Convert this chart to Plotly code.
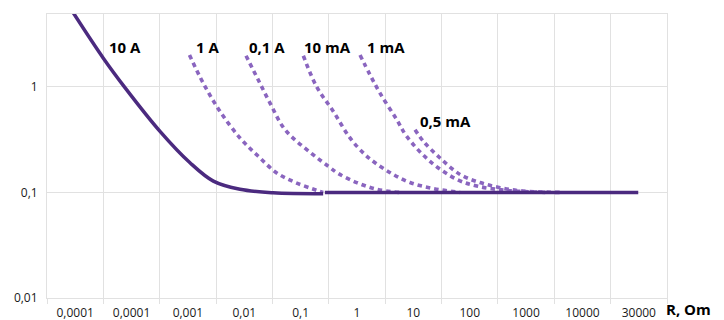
import plotly.graph_objects as go

# ---- data (x in category-axis units, y = value) ----
tick_labels = ["0,0001", "0,0001", "0,001", "0,01", "0,1", "1", "10", "100", "1000", "10000", "30000"]
y_tick_vals = [0.01, 0.1, 1]
y_tick_text = ["0,01", "0,1", "1"]

a10_x = [0.467, 0.999, 1.38, 2.005, 2.537, 2.951, 3.424, 4.01, 4.90]
a10_y = [5.02, 1.87, 0.99, 0.379, 0.191, 0.128, 0.107, 0.0993, 0.0973]
flat_x = [4.93, 10.49]
flat_y = [0.1, 0.1]

a1_x = [2.528, 2.773, 3.070, 3.424, 3.749, 4.076, 4.410, 4.78, 4.90]
a1_y = [2.0, 1.08, 0.585, 0.328, 0.22, 0.153, 0.124, 0.105, 0.1]

a01_x = [3.531, 3.749, 3.957, 4.223, 4.697, 4.991, 5.169, 5.495, 5.850, 6.26]
a01_y = [1.97, 1.16, 0.702, 0.393, 0.233, 0.177, 0.151, 0.124, 0.107, 0.1]

ma10_x = [4.548, 4.785, 5.080, 5.376, 5.642, 5.820, 6.116, 6.441, 6.849, 7.33]
ma10_y = [1.97, 1.0, 0.585, 0.328, 0.228, 0.191, 0.151, 0.124, 0.109, 0.1]

ma1_x = [5.554, 5.731, 5.908, 6.205, 6.382, 6.795, 7.269, 7.624, 8.157, 8.84]
ma1_y = [2.0, 1.30, 0.872, 0.489, 0.34, 0.197, 0.133, 0.115, 0.1045, 0.1]

ma05_x = [6.530, 6.677, 6.973, 7.328, 7.683, 8.038, 8.446, 9.10]
ma05_y = [0.393, 0.305, 0.212, 0.148, 0.124, 0.111, 0.103, 0.1]

series_labels = ["10 A", "1 A", "0,1 A", "10 mA", "1 mA", "0,5 mA"]

DARK = "#4b2a7f"
LIGHT = "#8a65bf"
GRID = "#e1e1e1"

fig = go.Figure()

for xs, ys in [(a1_x, a1_y), (a01_x, a01_y), (ma10_x, ma10_y), (ma1_x, ma1_y), (ma05_x, ma05_y)]:
    fig.add_trace(go.Scatter(x=xs, y=ys, mode="lines",
                             line=dict(color=LIGHT, width=3.6, dash="4.5px,4px", shape="spline"),
                             hoverinfo="skip", showlegend=False))

fig.add_trace(go.Scatter(x=a10_x, y=a10_y, mode="lines",
                         line=dict(color=DARK, width=3.5, shape="spline"), showlegend=False))
fig.add_trace(go.Scatter(x=flat_x, y=flat_y, mode="lines",
                         line=dict(color=DARK, width=3.5), showlegend=False))

label_pos = [(1.375, 0.377), (2.839, 0.377), (3.903, 0.377), (4.968, 0.377), (6.006, 0.377), (7.062, -0.321)]
for txt, (px, py) in zip(series_labels, label_pos):
    fig.add_annotation(x=px, y=py, text=txt, showarrow=False,
                       font=dict(family="Open Sans", size=15, color="#000000", weight="bold"),
                       xanchor="center", yanchor="middle")

fig.add_annotation(x=1, xref="paper", y=0, yref="paper", yshift=-22, xshift=-2,
                   text="R, Om", showarrow=False, xanchor="left", yanchor="bottom",
                   borderpad=0,
                   font=dict(family="Open Sans", size=15, color="#000000", weight="bold"))

fig.update_layout(
    template="none",
    width=724, height=320,
    margin=dict(l=47, r=57, t=14, b=22, pad=0),
    plot_bgcolor="white", paper_bgcolor="white",
    font=dict(family="Open Sans", size=12, color="#1a1a1a"),
    showlegend=False,
)

fig.update_xaxes(
    automargin=False,
    range=[0, 11],
    tickmode="array",
    tickvals=[i + 0.5 for i in range(len(tick_labels))],
    ticktext=tick_labels,
    ticks="outside", ticklen=4, tickcolor="rgba(0,0,0,0)",
    showgrid=False, zeroline=False,
    showline=True, linecolor=GRID, linewidth=1, mirror=True,
    minor=dict(tick0=0, dtick=1, showgrid=True, gridcolor=GRID, gridwidth=1,
               ticks="outside", ticklen=5, tickcolor=GRID),
    tickfont=dict(family="Open Sans", size=12, color="#1a1a1a"),
)

fig.update_yaxes(
    automargin=False,
    type="log",
    range=[-2, 0.69],
    tickmode="array",
    tickvals=y_tick_vals,
    ticktext=y_tick_text,
    showgrid=True, gridcolor=GRID, gridwidth=1,
    zeroline=False,
    showline=True, linecolor=GRID, linewidth=1, mirror=True,
    ticks="outside", ticklen=6, tickcolor="rgba(0,0,0,0)",
    tickfont=dict(family="Open Sans", size=12, color="#1a1a1a"),
)

fig.write_html("out.html",
               config={"displayModeBar": False},
               post_script="document.body.style.margin='0';document.body.style.overflow='hidden';")
